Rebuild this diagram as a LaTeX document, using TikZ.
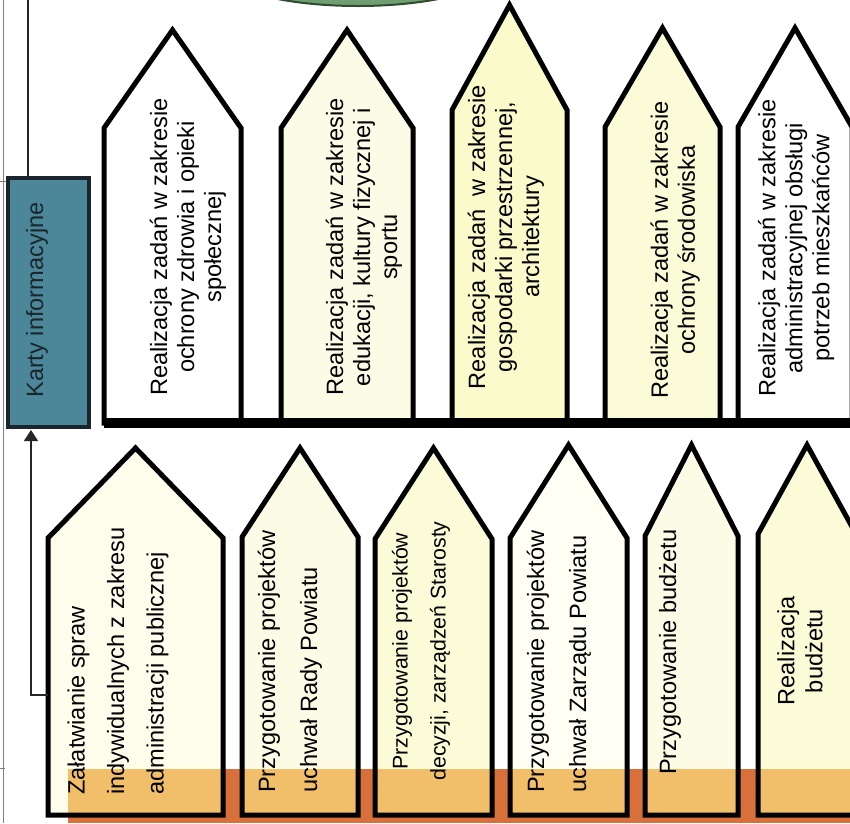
\documentclass[tikz,border=0pt]{standalone}
\usepackage{fontspec}
\setmainfont{Liberation Sans}
\usetikzlibrary{arrows.meta}
\definecolor{ellgreen}{HTML}{6E9E72}
\definecolor{ellborder}{HTML}{2E4A30}
\definecolor{cardfill}{HTML}{4C8699}
\definecolor{cardborder}{HTML}{1A262B}
\definecolor{banddark}{HTML}{D8703C}
\definecolor{bandlight}{HTML}{F1BE6A}
\definecolor{fcream}{HTML}{FCFCE6}
\definecolor{fyellow}{HTML}{FAFACB}
\definecolor{flight}{HTML}{FBFBD8}
\definecolor{fpale}{HTML}{FEFDEB}
\definecolor{fwhitey}{HTML}{FFFFF4}
\newcommand{\housepath}[5]{(#1,#5) -- (#1,#4) -- ({(#1+#2)/2},#3) -- (#2,#4) -- (#2,#5) -- cycle}
\newcommand{\bottomhouse}[5]{%
  \fill[#5] \housepath{#1}{#2}{#3}{#4}{815};
  \begin{scope}
    \clip \housepath{#1}{#2}{#3}{#4}{815};
    \fill[bandlight] (68,769) rectangle (860,823);
  \end{scope}
  \draw[house] \housepath{#1}{#2}{#3}{#4}{815};}
\begin{document}
\begin{tikzpicture}[x=1pt,y=-1pt,
  house/.style={line width=5pt, draw=black, line join=miter},
  bar/.style={line width=10pt, draw=black},
  conn/.style={line width=1.5pt, draw=black!85},
  margin/.style={line width=0.8pt, draw=black!50},
  lbl/.style={rotate=90, inner sep=0pt, text=black, align=center,
    font=\fontsize{23.6}{27}\selectfont},
]
\useasboundingbox (0,0) rectangle (850,823);
\clip (0,0) rectangle (850,823);

% green ellipse at top (mostly cut off)
\draw[fill=ellgreen, draw=ellborder, line width=2pt] (358,-39) ellipse [x radius=150, y radius=45];

% margin lines
\draw[margin] (3,0) -- (3,823);
\draw[margin] (0,181) -- (8,181);
\draw[margin] (0,768) -- (5,768);

% top houses
\fill[white] \housepath{104}{241}{30}{128}{423};
\draw[house] \housepath{104}{241}{30}{128}{423};
\fill[fcream] \housepath{281}{413}{30}{128}{423};
\draw[house] \housepath{281}{413}{30}{128}{423};
\fill[fyellow] \housepath{452}{567}{5}{110}{423};
\draw[house] \housepath{452}{567}{5}{110}{423};
\fill[flight] \housepath{605}{720}{28}{127}{423};
\draw[house] \housepath{605}{720}{28}{127}{423};
\fill[white] \housepath{738}{852}{28}{127}{423};
\draw[house] \housepath{738}{852}{28}{127}{423};

\coordinate (barL) at (104,423);
\coordinate (barR) at (855,423);
\draw[bar] (barL) -- (barR);

% top labels
\node[lbl] (t1) at (188,247) {Realizacja zadań w zakresie\\ochrony zdrowia i opieki\\społecznej};
\node[lbl] (t2) at (364,247) {Realizacja zadań w zakresie\\edukacji, kultury fizycznej i\\sportu};
\node[lbl] (t3) at (506,237) {Realizacja zadań~ w zakresie\\gospodarki przestrzennej,\\architektury};
\node[lbl] (t4) at (675,250) {Realizacja zadań w zakresie\\ochrony środowiska};
\node[lbl] (t5) at (796,248) {Realizacja zadań w zakresie\\administracyjnej obsługi\\potrzeb mieszkańców};

% bottom band
\fill[banddark] (68,769) rectangle (860,823);

% bottom houses
\bottomhouse{48}{223}{448}{538}{fpale}
\bottomhouse{242}{358}{448}{537}{fcream}
\bottomhouse{375}{492}{448}{539}{flight}
\bottomhouse{510}{627}{445}{538}{fwhitey}
\bottomhouse{645}{738}{445}{536}{fcream}
\bottomhouse{758}{856}{445}{534}{flight}

% bottom labels
\node[lbl, align=left, anchor=west, font=\fontsize{23.6}{39.5}\selectfont] (b1) at (118,795) {Załatwianie spraw\\indywidualnych z zakresu\\administracji publicznej};
\node[lbl, align=left, anchor=west, font=\fontsize{23.6}{42}\selectfont] (b2) at (290,793) {Przygotowanie projektów\\uchwał Rady Powiatu};
\node[lbl, font=\fontsize{21.3}{38}\selectfont] (b3) at (421,651) {Przygotowanie projektów\\decyzji, zarządzeń Starosty};
\node[lbl, align=left, anchor=west, font=\fontsize{23.6}{42}\selectfont] (b4) at (559,793) {Przygotowanie projektów\\uchwał Zarządu Powiatu};
\node[lbl, anchor=west] (b5) at (670,775) {Przygotowanie budżetu};
\node[lbl, font=\fontsize{23.6}{28}\selectfont] (b6) at (800,651) {Realizacja\\budżetu};

% information card
\node[draw=cardborder, fill=cardfill, line width=4pt, minimum width=81pt, minimum height=249pt, inner sep=0pt] (karty) at (48.5,302.5) {};
\node[lbl, text=cardborder] (kartylbl) at (37,300) {Karty informacyjne};

% connectors
\coordinate (topin) at (28,0);
\draw[conn] (topin) -- (karty.north -| topin);
\coordinate (b1w) at (48,695);
\coordinate (kin) at (31,430);
\draw[conn, -{Triangle[width=14pt,length=11pt]}] (b1w) -| (kin);
\end{tikzpicture}
\end{document}
